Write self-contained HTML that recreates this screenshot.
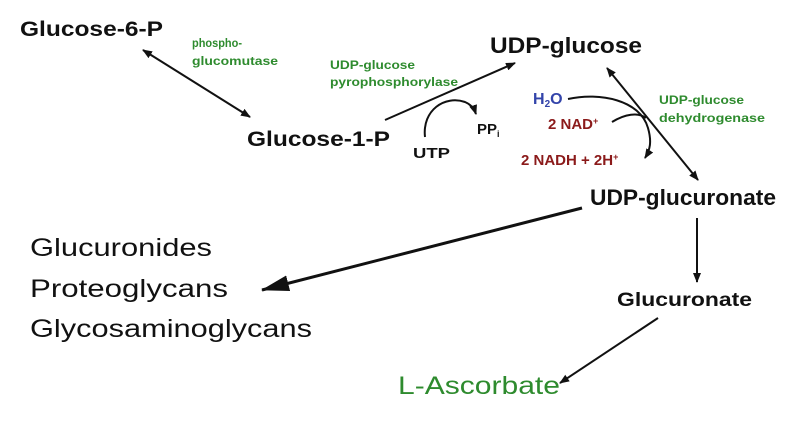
<!DOCTYPE html>
<html><head><meta charset="utf-8"><style>
body{margin:0;background:#fff}
svg text{font-family:"Liberation Sans",Arial,sans-serif}
.b{font-weight:bold;fill:#111}
.g{fill:#2e8b2e;font-weight:bold;font-size:12px}
.r{fill:#8b1a1a;font-weight:bold;font-size:15px}
</style></head><body>
<svg width="800" height="420" xmlns="http://www.w3.org/2000/svg">
<defs>
<marker id="a" markerWidth="10" markerHeight="8" refX="9" refY="4" orient="auto" markerUnits="userSpaceOnUse"><path d="M0,0L10,4L0,8z" fill="#111"/></marker>
<marker id="s" markerWidth="10" markerHeight="8" refX="1" refY="4" orient="auto" markerUnits="userSpaceOnUse"><path d="M10,0L0,4L10,8z" fill="#111"/></marker>
<marker id="big" markerWidth="28" markerHeight="16" refX="27" refY="8" orient="auto" markerUnits="userSpaceOnUse"><path d="M0,0L28,8L0,16z" fill="#111"/></marker>
</defs>
<g stroke="#111" stroke-width="2" fill="none">
<line x1="143" y1="50" x2="250" y2="117" marker-start="url(#s)" marker-end="url(#a)"/>
<line x1="385" y1="120" x2="515" y2="63" marker-end="url(#a)"/>
<path d="M425,137 C422,110 445,95 465,102 C470,104 474,108 476,114" marker-end="url(#a)"/>
<line x1="607" y1="68" x2="698" y2="180" marker-start="url(#s)" marker-end="url(#a)"/>
<path d="M568,99 C600,92 640,100 648,128 C652,142 650,150 645,158" marker-end="url(#a)"/>
<path d="M612,122 C625,114 638,112 646,118"/>
<line x1="582" y1="208" x2="262" y2="290" stroke-width="3" marker-end="url(#big)"/>
<line x1="697" y1="218" x2="697" y2="282" marker-end="url(#a)"/>
<line x1="658" y1="318" x2="560" y2="383" marker-end="url(#a)"/>
</g>
<text x="20" y="36" class="b" font-size="21" textLength="143" lengthAdjust="spacingAndGlyphs">Glucose-6-P</text>
<text x="192" y="47" class="g" textLength="50" lengthAdjust="spacingAndGlyphs">phospho-</text>
<text x="192" y="65" class="g" textLength="86" lengthAdjust="spacingAndGlyphs">glucomutase</text>
<text x="247" y="146" class="b" font-size="21" textLength="143" lengthAdjust="spacingAndGlyphs">Glucose-1-P</text>
<text x="490" y="53" class="b" font-size="22" textLength="152" lengthAdjust="spacingAndGlyphs">UDP-glucose</text>
<text x="330" y="69" class="g" textLength="85" lengthAdjust="spacingAndGlyphs">UDP-glucose</text>
<text x="330" y="86" class="g" textLength="128" lengthAdjust="spacingAndGlyphs">pyrophosphorylase</text>
<text x="413" y="158" class="b" font-size="15" textLength="37" lengthAdjust="spacingAndGlyphs">UTP</text>
<text x="477" y="134" class="b" font-size="15">PP<tspan font-size="9" dy="3">i</tspan></text>
<text x="533" y="104" font-size="16" font-weight="bold" fill="#3344aa">H<tspan font-size="10" dy="3">2</tspan><tspan dy="-3">O</tspan></text>
<text x="548" y="129" class="r">2 NAD<tspan font-size="9" dy="-5">+</tspan></text>
<text x="521" y="165" class="r">2 NADH + 2H<tspan font-size="9" dy="-5">+</tspan></text>
<text x="659" y="104" class="g" textLength="85" lengthAdjust="spacingAndGlyphs">UDP-glucose</text>
<text x="659" y="122" class="g" textLength="106" lengthAdjust="spacingAndGlyphs">dehydrogenase</text>
<text x="590" y="205" class="b" font-size="22" textLength="186" lengthAdjust="spacingAndGlyphs">UDP-glucuronate</text>
<text x="30" y="256" font-size="25" fill="#111" textLength="182" lengthAdjust="spacingAndGlyphs">Glucuronides</text>
<text x="30" y="297" font-size="25" fill="#111" textLength="198" lengthAdjust="spacingAndGlyphs">Proteoglycans</text>
<text x="30" y="337" font-size="25" fill="#111" textLength="282" lengthAdjust="spacingAndGlyphs">Glycosaminoglycans</text>
<text x="617" y="306" class="b" font-size="19" textLength="135" lengthAdjust="spacingAndGlyphs">Glucuronate</text>
<text x="398" y="394" font-size="25" fill="#2e8b2e" textLength="162" lengthAdjust="spacingAndGlyphs">L-Ascorbate</text>
</svg>
</body></html>
